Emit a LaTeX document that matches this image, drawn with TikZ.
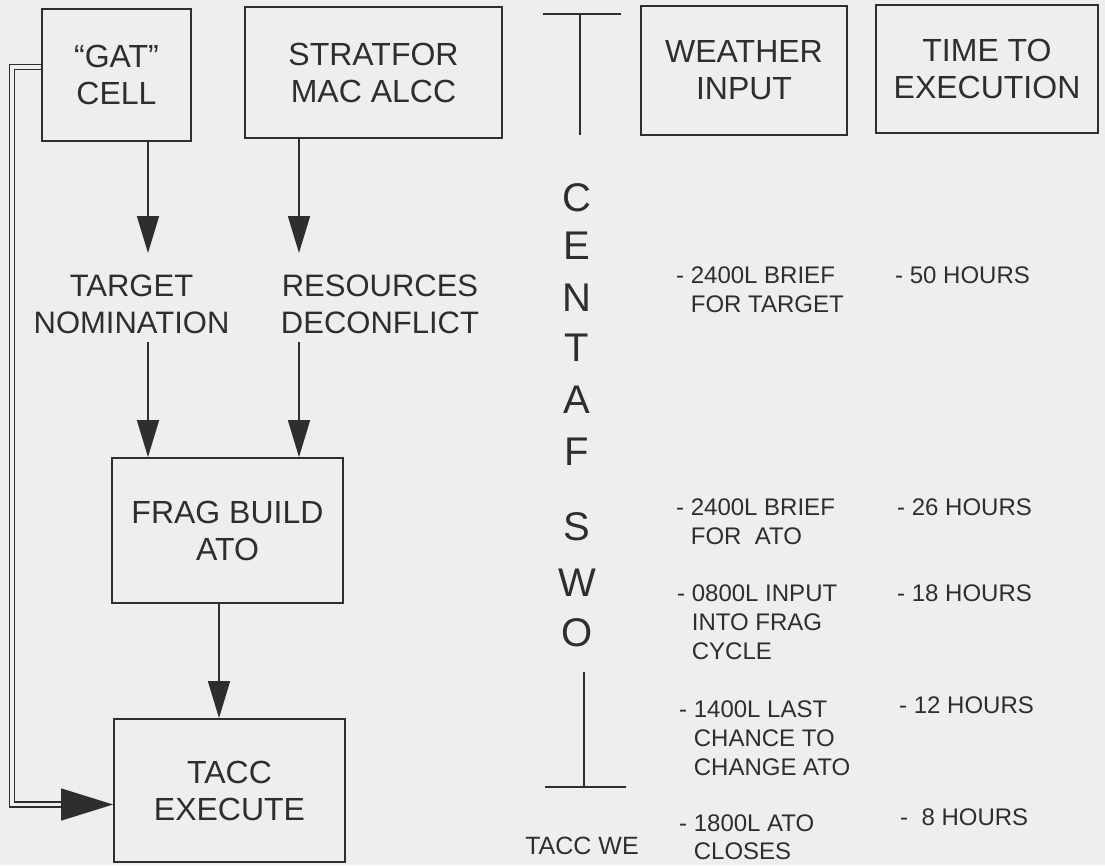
\documentclass[tikz,border=0pt]{standalone}
\usepackage{fontspec}
\setmainfont{Liberation Sans}
\usetikzlibrary{arrows.meta}
\definecolor{ink}{HTML}{2E2E2E}
\definecolor{paper}{HTML}{EEEEEC}
\begin{document}
\begin{tikzpicture}[x=1pt,y=-1pt,
  every node/.style={text=ink},
  boxstyle/.style={draw=ink,line width=1.8pt,inner sep=0pt,align=center,font=\fontsize{32}{37}\selectfont},
  lbl/.style={align=center,inner sep=0pt,font=\fontsize{31}{37}\selectfont},
  note/.style={align=left,inner sep=0pt,anchor=north west,font=\fontsize{24}{29}\selectfont},
  letter/.style={inner sep=0pt,font=\fontsize{40}{40}\selectfont},
  arr/.style={draw=ink,line width=1.6pt,-{Triangle[length=37pt,width=22pt]}},
  dbl/.style={draw=ink,double=paper,double distance=3.6pt,line width=1.4pt},
  bar/.style={draw=ink,line width=1.6pt}]
\fill[paper] (0,0) rectangle (1105,865);
\useasboundingbox (0,0) rectangle (1105,865);

% boxes
\node[boxstyle,minimum width=149pt,minimum height=132pt] (gat) at (116.5,75) {“GAT”\\CELL};
\node[boxstyle,minimum width=257pt,minimum height=131pt] (strat) at (373.5,72.5) {STRATFOR\\MAC ALCC};
\node[boxstyle,minimum width=206pt,minimum height=129pt] (weather) at (744,70.5) {WEATHER\\INPUT};
\node[boxstyle,minimum width=222pt,minimum height=128pt] (time) at (987,69) {TIME TO\\EXECUTION};
\node[boxstyle,minimum width=231pt,minimum height=145pt] (frag) at (227.5,530.5) {FRAG BUILD\\ATO};
\node[boxstyle,minimum width=231pt,minimum height=143pt] (tacc) at (229.5,790.5) {TACC\\EXECUTE};

% intermediate labels
\node[lbl,anchor=north] (target) at (131.5,275) {TARGET\\NOMINATION};
\node[lbl,anchor=north] (resources) at (380,275) {RESOURCES\\DECONFLICT};

% arrow columns
\coordinate (c1) at (148,0);
\coordinate (c2) at (299,0);
\coordinate (c3) at (219,0);
\draw[arr,shorten >=22pt] (gat.south -| c1) -- (target.north -| c1);
\draw[arr,shorten >=22pt] (strat.south -| c2) -- (resources.north -| c2);
\draw[arr,shorten <=8pt] (target.south -| c1) -- (frag.north -| c1);
\draw[arr,shorten <=8pt] (resources.south -| c2) -- (frag.north -| c2);
\draw[arr] (frag.south -| c3) -- (tacc.north -| c3);

% double feedback line
\draw[dbl,shorten >=52pt] ([yshift=8pt]gat.west) -- ++(-29,0) |- ([yshift=-14pt]tacc.west);
\draw[draw=ink,line width=1.3pt,-{Triangle[length=52pt,width=32pt]}] ([xshift=-52pt,yshift=-14pt]tacc.west) -- ([yshift=-14pt]tacc.west);

% T bars
\coordinate (t1) at (543,14);
\coordinate (t2) at (621,14);
\coordinate (t3) at (580,14);
\coordinate (t4) at (580,135);
\draw[bar] (t1) -- (t2);
\draw[bar] (t3) -- (t4);
\coordinate (u1) at (545,787);
\coordinate (u2) at (626,787);
\coordinate (u3) at (584,672);
\draw[bar] (u1) -- (u2);
\draw[bar] (u3) -- (u3 |- u1);

% vertical letters
\foreach \l/\y [count=\i] in {C/198,E/246,N/298,T/348,A/400,F/452,S/527,W/583,O/633}
  \node[letter] (L\i) at (577,\y) {\l};

% right column notes
\node[note] (n1) at (676,266.5) {- 2400L BRIEF\\\phantom{- }FOR TARGET};
\node[note] (h1) at (895,266.5) {- 50 HOURS};
\node[note] (n2) at (676,498.5) {- 2400L BRIEF\\\phantom{- }FOR\ \ ATO};
\node[note] (h2) at (897,498.5) {- 26 HOURS};
\node[note] (n3) at (677,584.5) {- 0800L INPUT\\\phantom{- }INTO FRAG\\\phantom{- }CYCLE};
\node[note] (h3) at (897,584.5) {- 18 HOURS};
\node[note] (n4) at (679,700.5) {- 1400L LAST\\\phantom{- }CHANCE TO\\\phantom{- }CHANGE ATO};
\node[note] (h4) at (899,696.5) {- 12 HOURS};
\node[note,font=\fontsize{24}{28}\selectfont] (n5) at (679,815) {- 1800L ATO\\\phantom{- }CLOSES};
\node[note] (h5) at (900,808.5) {-\ \ 8 HOURS};
\node[inner sep=0pt,font=\fontsize{25}{29}\selectfont] (tw) at (582,846) {TACC WE};
\end{tikzpicture}
\end{document}
